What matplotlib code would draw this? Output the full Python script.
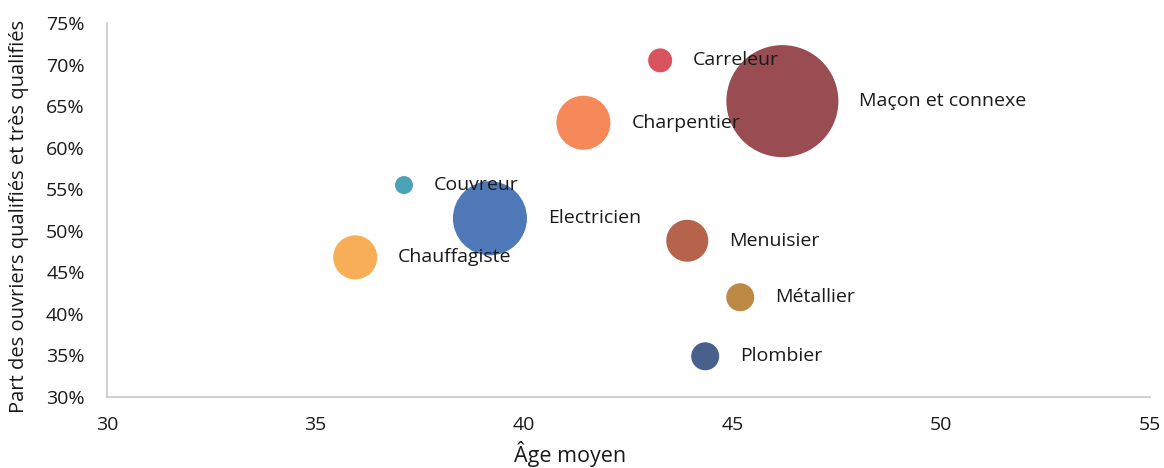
import matplotlib
matplotlib.use("Agg")
import matplotlib.pyplot as plt
import numpy as np
from matplotlib.ticker import FuncFormatter

plt.rcParams['font.family'] = ['Open Sans', 'DejaVu Sans']

metiers = ["Carreleur", "Maçon et connexe", "Charpentier", "Couvreur", "Electricien",
           "Chauffagiste", "Menuisier", "Métallier", "Plombier"]
age_moyen = [43.26, 46.19, 41.42, 37.12, 39.18, 35.95, 43.91, 45.18, 44.34]
part_qualifies = [70.5, 65.6, 63.0, 55.5, 51.5, 46.8, 48.8, 42.0, 34.9]
effectif = [144, 3136, 729, 81, 1369, 484, 441, 196, 196]
couleurs = ["#d9545e", "#994c52", "#f5895a", "#4ba3b8", "#4f78b8",
            "#f8ae56", "#b5634a", "#bd8a45", "#48608b"]

DPI = 100
fig = plt.figure(figsize=(11.64, 4.68), dpi=DPI)
ax = fig.add_axes([0.0919, 0.1517, 0.8960, 0.7992])

# bubble area proportional to effectif; radius in px = sqrt(effectif)
px2pt = 72.0 / DPI
eff = np.array(effectif, dtype=float)
radius_pt = np.sqrt(eff) * px2pt
sizes = (2 * radius_pt) ** 2
ax.scatter(age_moyen, part_qualifies, s=sizes, c=couleurs, edgecolors="none", zorder=2)

for x, y, lab, r in zip(age_moyen, part_qualifies, metiers, radius_pt):
    ax.annotate(lab, (x, y), xytext=(r + 21 * px2pt, 0), textcoords="offset points",
                ha="left", va="center", fontsize=14, color="#1a1a1a", zorder=3)

ax.set_xlim(30, 55)
ax.set_ylim(30, 75)
ax.set_xticks([30, 35, 40, 45, 50, 55])
ax.set_yticks(np.arange(30, 76, 5))
ax.yaxis.set_major_formatter(FuncFormatter(lambda v, p: f"{int(round(v))}%"))
ax.tick_params(axis="both", length=0, labelsize=14, colors="#1a1a1a")
ax.tick_params(axis="x", pad=14)
ax.tick_params(axis="y", pad=16)

for s in ["top", "right"]:
    ax.spines[s].set_visible(False)
for s in ["left", "bottom"]:
    ax.spines[s].set_color("#c8c8c8")
    ax.spines[s].set_linewidth(1.2)

ax.set_xlabel("Âge moyen", fontsize=15.5, color="#1a1a1a", va="top")
ax.xaxis.set_label_coords(0.444, -0.118)
ax.set_ylabel("Part des ouvriers qualifiés et très qualifiés", fontsize=14.5,
              color="#1a1a1a", va="center")
ax.yaxis.set_label_coords(-0.0844, 0.484)

fig.savefig("out.png", dpi=DPI)
